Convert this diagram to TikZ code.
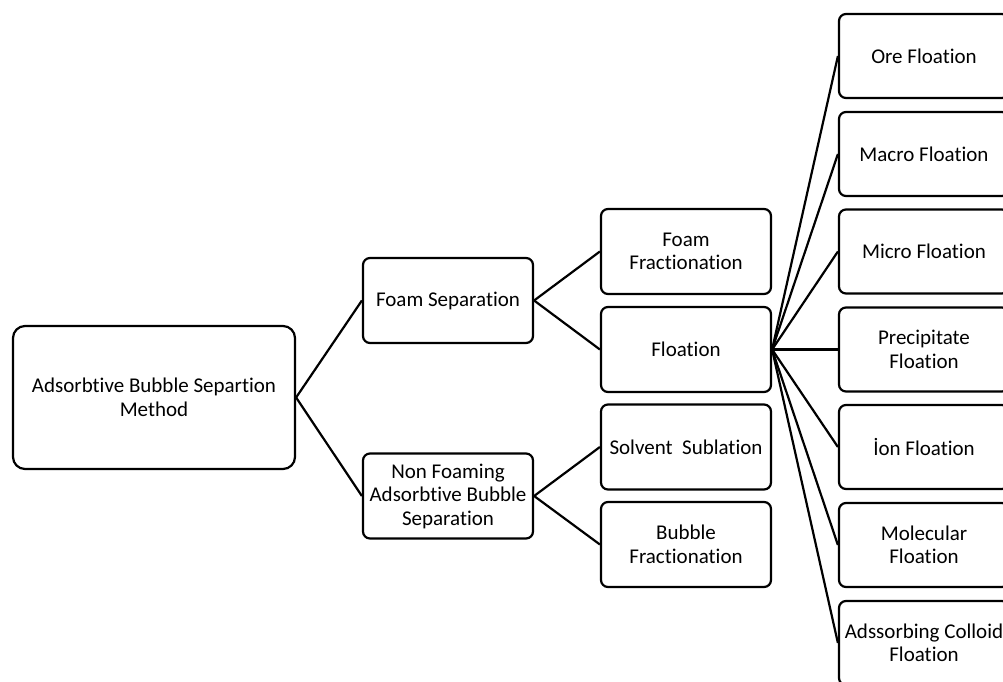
\documentclass[tikz,border=0pt]{standalone}
\usepackage{fontspec}
\setmainfont{Carlito}[Ligatures={NoCommon}]
\begin{document}
\begin{tikzpicture}[x=1pt,y=-1pt,
  box/.style={draw=black,line width=2.2pt,rounded corners=7pt,minimum width=170pt,minimum height=85pt,inner sep=0pt,align=center,font=\fontsize{21}{23.5}\selectfont},
  rootbox/.style={box,minimum width=282pt,minimum height=143pt,rounded corners=12pt},
  link/.style={line width=2.2pt}]
\useasboundingbox (0,0) rectangle (1003,682);
\fill[white] (0,0) rectangle (1003,682);
\node[rootbox] (root) at (154,397.5) {Adsorbtive Bubble Separtion\\Method};
\node[box] (fs) at (448,300.5) {Foam Separation};
\node[box] (nf) at (448,496) {Non Foaming\\Adsorbtive Bubble\\Separation};
\node[box] (ff) at (686,251.5) {Foam\\Fractionation};
\node[box] (fl) at (686,349.5) {Floation};
\node[box] (ss) at (686,447) {Solvent\ \ Sublation};
\node[box] (bf) at (686,544.5) {Bubble\\Fractionation};
\node[box,minimum height=84pt] (ore) at (924,56) {Ore Floation};
\node[box,minimum height=84pt] (mac) at (924,154) {Macro Floation};
\node[box,minimum height=84pt] (mic) at (924,251.5) {Micro Floation};
\node[box,minimum height=84pt] (pre) at (924,349.5) {Precipitate\\Floation};
\node[box,minimum height=84pt] (ion) at (924,447) {İon Floation};
\node[box,minimum height=84pt] (mol) at (924,545) {Molecular\\Floation};
\node[box,minimum height=84pt] (ads) at (924,643) {Adssorbing Colloid\\Floation};
\draw[link] (root.east) -- (fs.west);
\draw[link] (root.east) -- (nf.west);
\draw[link] (fs.east) -- (ff.west);
\draw[link] (fs.east) -- (fl.west);
\draw[link] (nf.east) -- (ss.west);
\draw[link] (nf.east) -- (bf.west);
\foreach \t in {ore,mac,mic,pre,ion,mol,ads}
  \draw[link] (fl.east) -- (\t.west);
\end{tikzpicture}
\end{document}
